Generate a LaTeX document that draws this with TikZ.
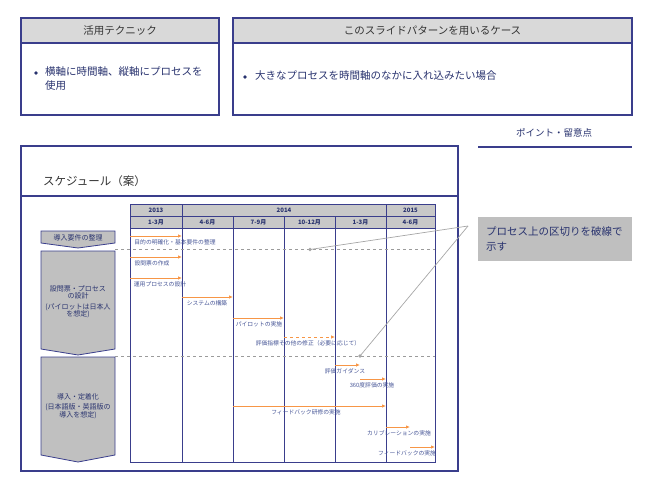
\documentclass[tikz,border=0pt]{standalone}
\usepackage{fontspec}
\setmainfont{Noto Sans CJK JP}
\usetikzlibrary{arrows.meta}
\definecolor{navy}{RGB}{58,62,140}
\definecolor{inknavy}{RGB}{40,50,110}
\definecolor{labnavy}{RGB}{70,85,150}
\definecolor{headgray}{RGB}{217,217,217}
\definecolor{cellgray}{RGB}{200,200,200}
\definecolor{phasegray}{RGB}{192,192,192}
\definecolor{notegray}{RGB}{191,191,191}
\definecolor{barorange}{RGB}{247,150,70}
\definecolor{sepgray}{RGB}{155,155,155}
\tikzset{
  frame/.style={draw=navy, line width=1.2pt},
  headtxt/.style={font=\fontsize{10.5}{12}\selectfont, text=black!80},
  bodytxt/.style={font=\fontsize{10.5}{14}\selectfont, text=inknavy, align=left, anchor=north west, inner sep=0pt},
  dot/.style={circle, fill=inknavy, inner sep=0pt, minimum size=3.6pt},
  hcell/.style={draw=navy, fill=cellgray, line width=0.8pt},
  hcelltxt/.style={font=\bfseries\fontsize{6}{7}\selectfont, text=inknavy},
  gridline/.style={draw=navy, line width=1pt},
  phase/.style={draw=navy, fill=phasegray, line width=0.8pt},
  phasetxt/.style={font=\fontsize{7}{10.5}\selectfont, text=inknavy, align=center},
  sepline/.style={draw=sepgray, dashed, line width=0.8pt},
  task/.style={draw=barorange, line width=1pt, -{Latex[length=4pt,width=3.5pt]}},
  tasklbl/.style={font=\fontsize{5.8}{6}\selectfont, text=labnavy, inner sep=0pt, anchor=north},
  pointer/.style={draw=gray!70, line width=0.7pt}
}
\begin{document}
\begin{tikzpicture}[x=1pt,y=-1pt]
  \useasboundingbox (0,0) rectangle (650,487);

  \draw[frame] (21,18) rectangle (219,115);
  \draw[frame, fill=headgray] (21,18) rectangle (219,43);
  \node[headtxt] (tech) at (120,30.5) {活用テクニック};
  \node[dot] (techdot) at (36,73) {};
  \node[bodytxt] (techtxt) at (45,66) {横軸に時間軸、縦軸にプロセスを\\使用};

  \draw[frame] (233,18) rectangle (632,115);
  \draw[frame, fill=headgray] (233,18) rectangle (632,43);
  \node[headtxt] (case) at (432.5,30.5) {このスライドパターンを用いるケース};
  \node[dot] (casedot) at (245,77) {};
  \node[bodytxt] (casetxt) at (255,70) {大きなプロセスを時間軸のなかに入れ込みたい場合};

  \node[font=\fontsize{9.5}{11}\selectfont, text=inknavy] (point) at (554,133) {ポイント・留意点};
  \draw[navy, line width=1.2pt] (478,147) -- (632,147);
  \node[fill=notegray, minimum width=154pt, minimum height=44pt, anchor=north west,
        text width=138pt, align=left, inner sep=8pt,
        font=\fontsize{10.5}{15.5}\selectfont, text=inknavy] (note) at (478,217)
        {プロセス上の区切りを破線で\\示す};

  \draw[frame, line width=1.5pt] (21,146) rectangle (458,471);
  \draw[frame] (21,196) -- (458,196);
  \node[font=\fontsize{11.5}{13}\selectfont, text=black!80, anchor=west, inner sep=0pt] (sched) at (43,181) {スケジュール（案）};

  \foreach \name/\l/\r/\txt in {y13/130/182/2013, y14/182/386/2014, y15/386/435/2015} {
    \draw[hcell] (\l,204) rectangle (\r,216);
    \node[hcelltxt] (\name) at ({(\l+\r)/2},210) {\txt};
  }
  \foreach \name/\l/\r/\txt in {m1/130/182/1-3月, m2/182/233/4-6月, m3/233/284/7-9月,
                                m4/284/335/10-12月, m5/335/386/1-3月, m6/386/435/4-6月} {
    \draw[hcell] (\l,216) rectangle (\r,228);
    \node[hcelltxt] (\name) at ({(\l+\r)/2},222) {\txt};
  }
  \draw[gridline] (130,228) rectangle (435,462);
  \foreach \x in {182,233,284,335,386}
    \draw[gridline] (\x,228) -- (\x,462);

  \draw[phase] (41,231) -- (115,231) -- (115,243) -- (78,248) -- (41,243) -- cycle;
  \node[phasetxt] (ph1) at (78,238) {導入要件の整理};
  \draw[phase] (41,251) -- (115,251) -- (115,349) -- (78,355) -- (41,349) -- cycle;
  \node[phasetxt] (ph2) at (78,302) {設問票・プロセス\\[-3pt]の設計\\(パイロットは日本人\\[-3pt]を想定)};
  \draw[phase] (41,357) -- (115,357) -- (115,455) -- (78,462) -- (41,455) -- cycle;
  \node[phasetxt] (ph3) at (78,406) {導入・定着化\\(日本語版・英語版の\\[-3pt]導入を想定)};

  \draw[sepline] (115,249.5) -- (435,249.5);
  \draw[sepline] (115,356) -- (435,356);

  \foreach \i/\a/\b/\y/\lx/\st/\txt in {
      1/130/182/236/175/solid/目的の明確化・基本要件の整理,
      2/130/182/257/152/solid/設問票の作成,
      3/130/182/278/160/solid/運用プロセスの設計,
      4/182/233/297/207/solid/システムの構築,
      5/233/284/318/259/solid/パイロットの実施,
      6/284/335/337/308/dashed/評価指標その他の修正（必要に応じて）,
      7/335/360/365/345/solid/評価ガイダンス,
      8/360/386/379/372/solid/360度評価の実施,
      9/233/386/406/306/solid/フィードバック研修の実施,
      10/386/410/427/399/solid/カリブレーションの実施,
      11/410/435/447/407/solid/フィードバックの実施} {
    \coordinate (s\i) at (\a,\y);
    \coordinate (e\i) at (\b,\y);
    \draw[task, \st] (s\i) -- (e\i);
    \node[tasklbl] (l\i) at (\lx,\y+3) {\txt};
  }

  \coordinate (cp) at (468,226);
  \coordinate (d1) at (310,249.5);
  \coordinate (d2) at (360,356);
  \draw[pointer] (cp) -- (d1);
  \draw[pointer] (cp) -- (d2);
  \fill[gray!70] (d1) circle (1.8pt) (d2) circle (1.8pt);
\end{tikzpicture}
\end{document}
